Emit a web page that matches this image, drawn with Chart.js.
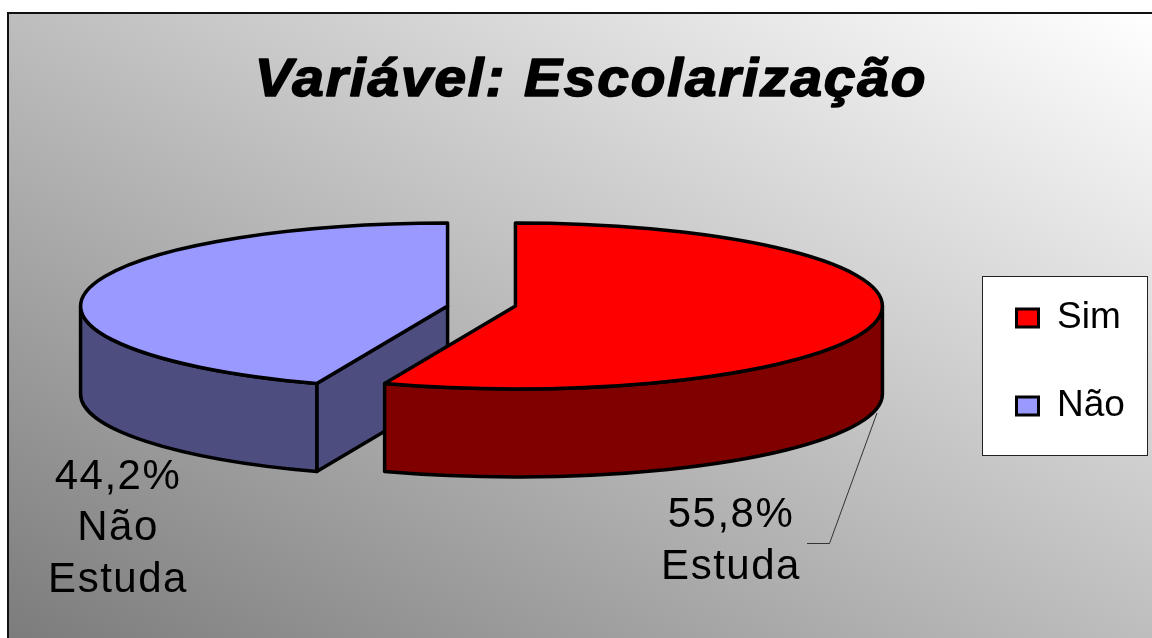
<!DOCTYPE html>
<html lang="pt">
<head>
  <meta charset="UTF-8">
  <title>Variável: Escolarização</title>
  <script src="https://cdn.jsdelivr.net/npm/chart.js"></script>
  <style>
    body { margin: 0; background: #fff; }
    canvas { display: block; }
  </style>
</head>
<body>
  <canvas id="pieChart" width="1152" height="638"></canvas>

  <script>
    // Dados
    const categories = ['Sim', 'Não'];
    const percentages = [55.8, 44.2];
    const topColors = ['#ff0000', '#9999ff'];
    const sideColors = ['#800000', '#4d4d80'];
    const chartTitle = 'Variável: Escolarização';

    // Geometria da pizza "3D" na tela
    const PIE_X = 481.5, PIE_Y = 306, RADIUS_X = 367, RADIUS_Y = 83, DEPTH = 88, EXPLODE = 34.5;
    const OUTLINE = 3.5;

    const ink = '#000';

    function pieScale(chart, el) {
      const area = chart.chartArea;
      return {
        cx: (area.left + area.right) / 2,
        cy: (area.top + area.bottom) / 2,
        sx: RADIUS_X / el.outerRadius,
        sy: RADIUS_Y / el.outerRadius
      };
    }

    // Centro e raios de uma fatia já projetados na tela
    function projectArc(chart, el) {
      const s = pieScale(chart, el);
      return {
        x: PIE_X + (el.x - s.cx) * s.sx,
        y: PIE_Y + (el.y - s.cy) * s.sy,
        rx: el.outerRadius * s.sx,
        ry: el.outerRadius * s.sy
      };
    }

    function drawWall(ctx, p, el, fill) {
      const from = Math.max(el.startAngle, 0);
      const to = Math.min(el.endAngle, Math.PI);
      ctx.fillStyle = fill;
      ctx.strokeStyle = ink;
      ctx.lineWidth = OUTLINE;
      ctx.lineJoin = 'round';
      // parede externa
      ctx.beginPath();
      ctx.ellipse(p.x, p.y, p.rx, p.ry, 0, from, to);
      ctx.ellipse(p.x, p.y + DEPTH, p.rx, p.ry, 0, to, from, true);
      ctx.closePath();
      ctx.fill();
      ctx.stroke();
    }

    // Face do corte voltada para a frente (só a fatia azul mostra)
    function drawCutFace(ctx, p, el, fill) {
      const ex = p.x + Math.cos(el.startAngle) * p.rx;
      const ey = p.y + Math.sin(el.startAngle) * p.ry;
      ctx.fillStyle = fill;
      ctx.strokeStyle = ink;
      ctx.lineWidth = OUTLINE;
      ctx.lineJoin = 'round';
      ctx.beginPath();
      ctx.moveTo(p.x, p.y);
      ctx.lineTo(ex, ey);
      ctx.lineTo(ex, ey + DEPTH);
      ctx.lineTo(p.x, p.y + DEPTH);
      ctx.closePath();
      ctx.fill();
      ctx.stroke();
    }

    const tiltedPie = {
      id: 'tiltedPie',
      afterDatasetsUpdate(chart) {
        // separa as fatias na horizontal (a opção offset muda o raio, por isso movemos o centro)
        chart.getDatasetMeta(0).data.forEach(el => {
          const s = pieScale(chart, el);
          const mid = (el.startAngle + el.endAngle) / 2;
          el.x += Math.cos(mid) * EXPLODE / s.sx;
        });
      },
      afterLayout(chart) {
        // legenda no lugar do original
        const legend = chart.legend;
        const pad = chart.options.plugins.legend.labels.padding;
        legend.left = 1016.5 - pad;
        legend.right = chart.width;
        legend.top = 248.5;
        legend.bottom = chart.height;
      },
      beforeDraw(chart) {
        const ctx = chart.ctx;
        const left = 8, top = 13, w = chart.width - left, h = chart.height - top;
        // gradiente diagonal: canto inferior esquerdo escuro, superior direito branco
        const len = Math.hypot(w, h);
        const dx = h / len, dy = -w / len;
        const half = (w * dx - h * dy) / 2;
        const mx = left + w / 2, my = top + h / 2;
        const grad = ctx.createLinearGradient(mx - dx * half, my - dy * half, mx + dx * half, my + dy * half);
        grad.addColorStop(0, '#7c7c7c');
        grad.addColorStop(1, '#ffffff');
        ctx.save();
        ctx.fillStyle = grad;
        ctx.fillRect(left, top, w, h);
        ctx.strokeStyle = '#111';
        ctx.lineWidth = 2;
        ctx.beginPath();
        ctx.moveTo(left, chart.height);
        ctx.lineTo(left, top);
        ctx.lineTo(chart.width, top);
        ctx.stroke();
        // caixa da legenda
        ctx.fillStyle = '#fff';
        ctx.strokeStyle = '#222';
        ctx.lineWidth = 1;
        ctx.fillRect(982.5, 276.5, 165, 179);
        ctx.strokeRect(982.5, 276.5, 165, 179);
        // título (esticado na horizontal como no original)
        ctx.translate(591, 96);
        ctx.scale(1.07, 1);
        ctx.font = 'italic bold 53px "Liberation Sans"';
        ctx.letterSpacing = '1.8px';
        ctx.textAlign = 'center';
        ctx.textBaseline = 'alphabetic';
        ctx.fillStyle = ink;
        ctx.strokeStyle = ink;
        ctx.lineWidth = 1.6;
        ctx.lineJoin = 'round';
        ctx.fillText(chartTitle, 0, 0);
        ctx.strokeText(chartTitle, 0, 0);
        ctx.restore();
      },
      beforeDatasetsDraw(chart) {
        const ctx = chart.ctx;
        const arcs = chart.getDatasetMeta(0).data;
        ctx.save();
        // azul antes do vermelho: a parede vermelha fica na frente
        drawCutFace(ctx, projectArc(chart, arcs[1]), arcs[1], sideColors[1]);
        drawWall(ctx, projectArc(chart, arcs[1]), arcs[1], sideColors[1]);
        drawWall(ctx, projectArc(chart, arcs[0]), arcs[0], sideColors[0]);
        ctx.restore();
        // a face de cima é desenhada pelo Chart.js com a elipse
        const s = pieScale(chart, arcs[0]);
        ctx.save();
        ctx.translate(PIE_X, PIE_Y);
        ctx.scale(s.sx, s.sy);
        ctx.translate(-s.cx, -s.cy);
      },
      afterDatasetsDraw(chart) {
        const ctx = chart.ctx;
        ctx.restore();
        // contorno das faces de cima, com traço uniforme
        ctx.save();
        ctx.strokeStyle = ink;
        ctx.lineWidth = OUTLINE;
        ctx.lineJoin = 'round';
        chart.getDatasetMeta(0).data.forEach(el => {
          const p = projectArc(chart, el);
          ctx.beginPath();
          ctx.moveTo(p.x, p.y);
          ctx.ellipse(p.x, p.y, p.rx, p.ry, 0, el.startAngle, el.endAngle);
          ctx.closePath();
          ctx.stroke();
        });
        // linha de chamada
        ctx.strokeStyle = '#333';
        ctx.lineWidth = 1;
        ctx.beginPath();
        ctx.moveTo(877, 413);
        ctx.lineTo(829.5, 543.5);
        ctx.lineTo(807, 543.5);
        ctx.stroke();
        // rótulos de dados
        ctx.font = '42px "Liberation Sans"';
        ctx.letterSpacing = '1.5px';
        ctx.textAlign = 'center';
        ctx.fillStyle = ink;
        const pct = v => v.toFixed(1).replace('.', ',') + '%';
        ctx.fillText(pct(percentages[0]), 731, 527);
        ctx.fillText('Estuda', 731, 579);
        ctx.fillText(pct(percentages[1]), 118, 489);
        ctx.fillText('Não', 118, 540);
        ctx.fillText('Estuda', 118, 592);
        ctx.restore();
      }
    };

    new Chart(document.getElementById('pieChart'), {
      type: 'pie',
      data: {
        labels: categories,
        datasets: [{
          data: percentages,
          backgroundColor: topColors,
          borderWidth: 0,
          clip: false
        }]
      },
      options: {
        responsive: false,
        animation: false,
        plugins: {
          title: { display: false },
          tooltip: { enabled: false },
          legend: {
            position: 'right',
            align: 'start',
            labels: {
              boxWidth: 22,
              boxHeight: 18,
              padding: 51,
              color: '#000',
              font: { family: '"Liberation Sans"', size: 37 },
              generateLabels(chart) {
                return categories.map((name, i) => ({
                  text: name,
                  fillStyle: topColors[i],
                  strokeStyle: ink,
                  lineWidth: 3,
                  hidden: false,
                  index: i
                }));
              }
            }
          }
        }
      },
      plugins: [tiltedPie]
    });
  </script>
</body>
</html>
